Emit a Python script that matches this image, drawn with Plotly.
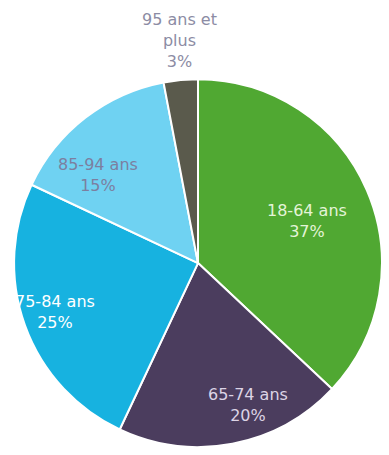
import plotly.graph_objects as go

# Répartition par tranche d'âge
tranches = ["18-64 ans", "65-74 ans", "75-84 ans", "85-94 ans", "95 ans et<br>plus"]
parts = [37, 20, 25, 15, 3]
couleurs = ["#50a832", "#4b3d5e", "#17b2e0", "#6fd2f2", "#5a5a4c"]
couleurs_texte = ["#e4f4d8", "#dcd4e6", "#ffffff", "#7c7fa0", "#8c8ca4"]

# Emplacement des étiquettes (centre du bloc de texte, en pixels depuis le coin haut-gauche)
pos_etiquettes = [(307, 221), (248, 405), (55, 312), (98, 175), (179, 40)]

W, H = 389, 455

fig = go.Figure(
    go.Pie(
        labels=tranches,
        values=parts,
        sort=False,
        direction="clockwise",
        rotation=0,
        marker=dict(colors=couleurs, line=dict(color="#ffffff", width=2)),
        textinfo="none",
        hoverinfo="label+percent",
        domain=dict(x=[0.036, 0.982], y=[0.0176, 0.826]),
        showlegend=False,
    )
)

for nom, val, coul, (px, py) in zip(tranches, parts, couleurs_texte, pos_etiquettes):
    fig.add_annotation(
        x=px / W,
        y=1 - py / H,
        xref="paper",
        yref="paper",
        xanchor="center",
        yanchor="middle",
        text=f"{nom}<br>{val}%",
        showarrow=False,
        font=dict(family="DejaVu Sans", size=16, color=coul),
    )

fig.update_layout(
    width=W,
    height=H,
    margin=dict(l=0, r=0, t=0, b=0),
    paper_bgcolor="#ffffff",
    plot_bgcolor="#ffffff",
)

fig.write_html("out.html")
